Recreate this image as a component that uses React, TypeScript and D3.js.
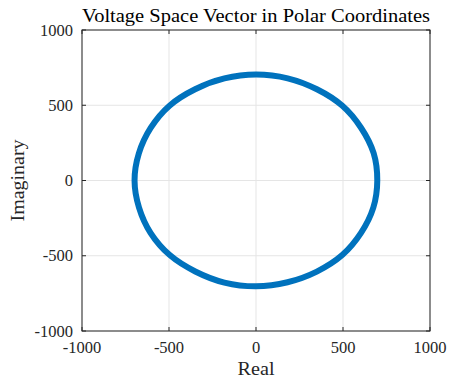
import React from "react";
import * as d3 from "d3";

const titleText = "Voltage Space Vector in Polar Coordinates";
const xLabel = "Real";
const yLabel = "Imaginary";
const xTicks = [-1000, -500, 0, 500, 1000];
const yTicks = [-1000, -500, 0, 500, 1000];
const anglesDeg = [0, 15, 30, 45, 60, 75, 90, 105, 120, 135, 150, 165, 180, 195, 210, 225, 240, 255, 270, 285, 300, 315, 330, 345];
const magnitudes = [697, 700, 698, 702, 700, 703, 704, 702, 700, 703, 699, 697, 698, 696, 699, 701, 698, 702, 703, 700, 699, 701, 697, 698];

const W = 450, H = 383;
const M = { left: 82, right: 430, top: 30, bottom: 331 };
const FONT = "'Liberation Serif', 'Times New Roman', serif";

export default function App() {
  const x = d3.scaleLinear().domain([-1000, 1000]).range([M.left, M.right]);
  const y = d3.scaleLinear().domain([-1000, 1000]).range([M.bottom, M.top]);
  const pts: [number, number][] = anglesDeg.map((a, i) => {
    const r = magnitudes[i];
    const t = (a * Math.PI) / 180;
    return [x(r * Math.cos(t)), y(r * Math.sin(t))];
  });
  const line = d3.line().curve(d3.curveCardinalClosed.tension(0.2));
  const path = line(pts) || "";
  const axisColor = "#262626";
  const gridColor = "#e5e5e5";
  const tl = 4;
  return (
    <svg width={W} height={H} style={{ position: "absolute", left: 0, top: 0, background: "#fff" }}>
      <rect x={0} y={0} width={W} height={H} fill="#fff" />
      {xTicks.map((t) => (
        <line key={"gx" + t} x1={x(t)} x2={x(t)} y1={M.top} y2={M.bottom} stroke={gridColor} strokeWidth={1} />
      ))}
      {yTicks.map((t) => (
        <line key={"gy" + t} x1={M.left} x2={M.right} y1={y(t)} y2={y(t)} stroke={gridColor} strokeWidth={1} />
      ))}
      <path d={path} fill="none" stroke="#0072BD" strokeWidth={6} strokeLinejoin="round" />
      <rect x={M.left} y={M.top} width={M.right - M.left} height={M.bottom - M.top} fill="none" stroke={axisColor} strokeWidth={1} />
      {xTicks.map((t) => (
        <g key={"tx" + t}>
          <line x1={x(t)} x2={x(t)} y1={M.bottom} y2={M.bottom - tl} stroke={axisColor} />
          <line x1={x(t)} x2={x(t)} y1={M.top} y2={M.top + tl} stroke={axisColor} />
          <text x={x(t)} y={353} textAnchor="middle" fontFamily={FONT} fontSize={16.5} fill="#262626">{t}</text>
        </g>
      ))}
      {yTicks.map((t) => (
        <g key={"ty" + t}>
          <line x1={M.left} x2={M.left + tl} y1={y(t)} y2={y(t)} stroke={axisColor} />
          <line x1={M.right} x2={M.right - tl} y1={y(t)} y2={y(t)} stroke={axisColor} />
          <text x={73} y={y(t) + 5.5} textAnchor="end" fontFamily={FONT} fontSize={16.5} fill="#262626">{t}</text>
        </g>
      ))}
      <text x={256} y={22} textAnchor="middle" fontFamily={FONT} fontSize={18.5} textLength={348} lengthAdjust="spacingAndGlyphs" fill="#000">{titleText}</text>
      <text x={256} y={375} textAnchor="middle" fontFamily={FONT} fontSize={18.5} textLength={37} lengthAdjust="spacingAndGlyphs" fill="#262626">{xLabel}</text>
      <text transform={`translate(24,${y(0)}) rotate(-90)`} textAnchor="middle" fontFamily={FONT} fontSize={18.5} textLength={82} lengthAdjust="spacingAndGlyphs" fill="#262626">{yLabel}</text>
    </svg>
  );
}
